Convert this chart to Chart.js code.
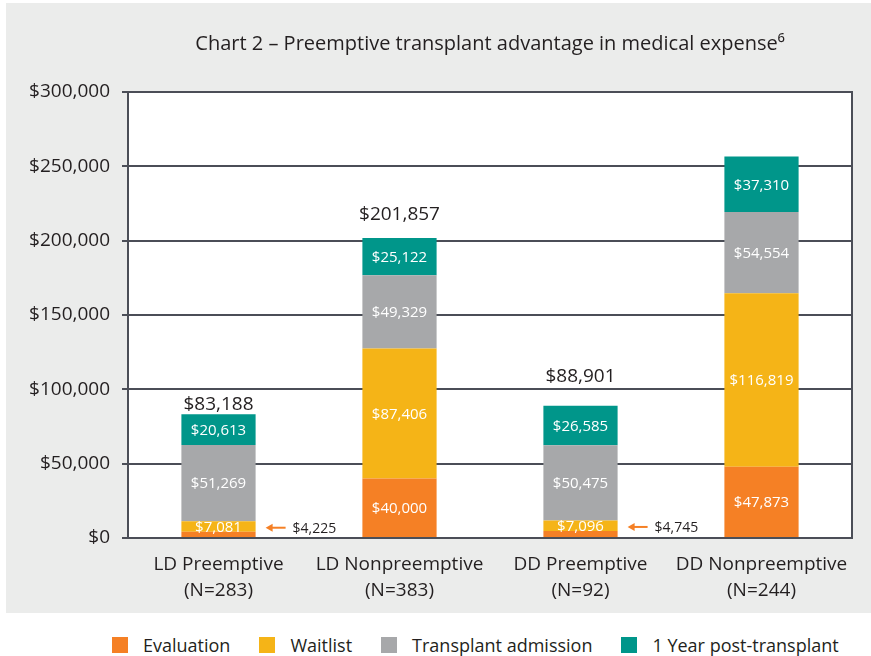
<!DOCTYPE html>
<html>
<head>
<meta charset="utf-8">
<script src="https://cdn.jsdelivr.net/npm/chart.js@4"></script>
<style>
  html, body { margin: 0; padding: 0; background: #fff; overflow: hidden; }
  #wrap { position: relative; width: 871px; height: 613px; }
  #legend {
      position: absolute; left: 112px; top: 636px;
      display: flex; align-items: center;
      font: 18px 'Open Sans', sans-serif; line-height: 18px; color: #231f20;
  }
  #legend .item { display: flex; align-items: center; margin-right: 29px; }
  #legend .item:last-child { margin-right: 0; }
  #legend .swatch { width: 16px; height: 16px; margin-right: 15px; }
</style>
</head>
<body>
<div id="wrap"><canvas id="chart"></canvas></div>
<div id="legend"></div>
<script>
// values
const categories = [
    ['LD Preemptive', '(N=283)'],
    ['LD Nonpreemptive', '(N=383)'],
    ['DD Preemptive', '(N=92)'],
    ['DD Nonpreemptive', '(N=244)']
];
const seriesNames = ['Evaluation', 'Waitlist', 'Transplant admission', '1 Year post-transplant'];
const evaluation = [4225, 40000, 4745, 47873];
const waitlist = [7081, 87406, 7096, 116819];
const admission = [51269, 49329, 50475, 54554];
const postTransplant = [20613, 25122, 26585, 37310];
const totals = [83188, 201857, 88901, null];
const yTicks = [0, 50000, 100000, 150000, 200000, 250000, 300000];

const colors = ['#f58025', '#f5b417', '#a7a8aa', '#00968a'];
const textColor = '#231f20';
const gridColor = '#4b4e57';
const fontFamily = "'Open Sans', sans-serif";

// how far above the bar top each total sits (as in the original)
const totalLift = [10, 23, 29, 0];

const fmt = v => '$' + v.toLocaleString('en-US');

// gray panel and white plot area
const panelBg = {
    id: 'panelBg',
    beforeDraw(chart) {
        const { ctx, chartArea: a } = chart;
        ctx.save();
        ctx.fillStyle = '#ebeceb';
        ctx.fillRect(6, 3, 865, 610);
        ctx.fillStyle = '#ffffff';
        ctx.fillRect(a.left, a.top, a.right - a.left, a.bottom - a.top);
        ctx.restore();
    },
    afterDraw(chart) {
        const { ctx, chartArea: a } = chart;
        ctx.save();
        ctx.strokeStyle = gridColor;
        ctx.lineWidth = 2;
        ctx.strokeRect(a.left, a.top, a.right - a.left, a.bottom - a.top);
        ctx.restore();
    }
};

// labels inside segments, arrows for the tiny ones, totals on top
const barLabels = {
    id: 'barLabels',
    afterDatasetsDraw(chart) {
        const ctx = chart.ctx;
        ctx.save();
        ctx.textBaseline = 'middle';
        chart.data.datasets.forEach((ds, di) => {
            const meta = chart.getDatasetMeta(di);
            meta.data.forEach((bar, i) => {
                const h = bar.base - bar.y;
                const txt = fmt(ds.data[i]);
                if (h > 9) {
                    ctx.fillStyle = '#ffffff';
                    ctx.font = '15px ' + fontFamily;
                    ctx.textAlign = 'center';
                    ctx.fillText(txt, bar.x, bar.y + h / 2 + 1);
                } else {
                    const x0 = bar.x + bar.width / 2 + 10;
                    const y0 = bar.y - 4;
                    ctx.strokeStyle = colors[0];
                    ctx.fillStyle = colors[0];
                    ctx.lineWidth = 2;
                    ctx.beginPath();
                    ctx.moveTo(x0 + 5, y0);
                    ctx.lineTo(x0 + 20, y0);
                    ctx.stroke();
                    ctx.beginPath();
                    ctx.moveTo(x0, y0);
                    ctx.lineTo(x0 + 7, y0 - 4);
                    ctx.lineTo(x0 + 7, y0 + 4);
                    ctx.closePath();
                    ctx.fill();
                    ctx.fillStyle = textColor;
                    ctx.font = '14px ' + fontFamily;
                    ctx.textAlign = 'left';
                    ctx.fillText(txt, x0 + 27, y0 + 1);
                }
            });
        });
        const top = chart.getDatasetMeta(chart.data.datasets.length - 1).data;
        ctx.fillStyle = textColor;
        ctx.font = '19px ' + fontFamily;
        ctx.textAlign = 'center';
        totals.forEach((t, i) => {
            if (t == null) return;
            ctx.fillText(fmt(t), top[i].x, top[i].y - totalLift[i]);
        });
        ctx.restore();
    }
};

// legend as html under the canvas, built from the chart's own legend items
const htmlLegend = {
    id: 'htmlLegend',
    afterUpdate(chart) {
        const box = document.getElementById('legend');
        box.innerHTML = '';
        const items = chart.options.plugins.legend.labels.generateLabels(chart);
        items.forEach(item => {
            const el = document.createElement('div');
            el.className = 'item';
            const sw = document.createElement('span');
            sw.className = 'swatch';
            sw.style.background = item.fillStyle;
            const tx = document.createElement('span');
            tx.textContent = item.text;
            el.append(sw, tx);
            box.append(el);
        });
    }
};

const seriesData = [evaluation, waitlist, admission, postTransplant];

new Chart(document.getElementById('chart'), {
    type: 'bar',
    data: {
        labels: categories,
        datasets: seriesNames.map((name, k) => ({
            label: name,
            data: seriesData[k],
            backgroundColor: colors[k],
            borderWidth: 0,
            barPercentage: 0.41,
            categoryPercentage: 1.0
        }))
    },
    options: {
        responsive: true,
        maintainAspectRatio: false,
        animation: false,
        layout: {
            padding: { left: 6, right: 19, top: 0, bottom: 0 }
        },
        scales: {
            x: {
                stacked: true,
                grid: { display: false, drawTicks: false },
                border: { display: false },
                ticks: {
                    color: textColor,
                    padding: 13,
                    font: { family: fontFamily, size: 19, lineHeight: 1.38 }
                },
                afterFit(scale) { scale.height = 75; }
            },
            y: {
                stacked: true,
                min: 0,
                max: 300000,
                afterBuildTicks(scale) {
                    scale.ticks = yTicks.map(v => ({ value: v }));
                },
                grid: {
                    color: gridColor,
                    lineWidth: 2,
                    tickLength: 6,
                    drawTicks: true
                },
                border: { display: false },
                ticks: {
                    color: textColor,
                    padding: 12,
                    font: { family: fontFamily, size: 19 },
                    callback: v => fmt(v)
                },
                afterFit(scale) { scale.width = 122; }
            }
        },
        plugins: {
            title: {
                display: true,
                fullSize: false,
                text: 'Chart 2 \u2013 Preemptive transplant advantage in medical expense\u2076',
                color: textColor,
                font: { family: fontFamily, size: 20, weight: 'normal' },
                padding: { top: 32, bottom: 36 }
            },
            legend: { display: false },
            tooltip: { enabled: false }
        }
    },
    plugins: [panelBg, barLabels, htmlLegend]
});
</script>
</body>
</html>
